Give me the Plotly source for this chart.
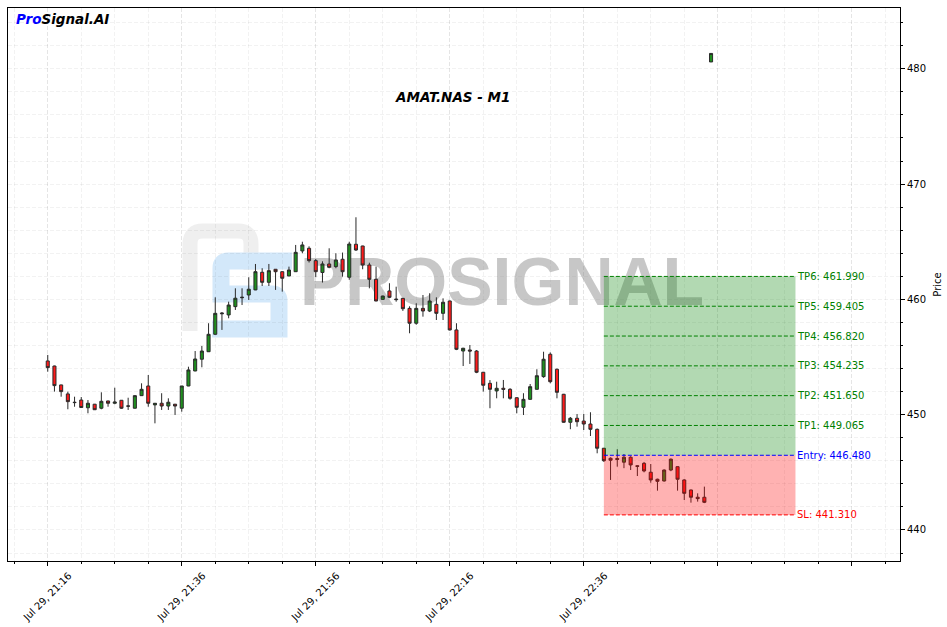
import pandas as pd
import plotly.graph_objects as go

# ---------------- data ----------------
start_time = "2024-07-29 21:16"

opens = [454.66, 454.22, 452.58, 451.80, 451.08, 451.27, 450.60, 450.91, 450.56, 451.19,
         450.99, 451.25, 450.76, 450.56, 451.65, 452.49, 450.85, 450.99, 450.75, 450.91,
         450.56, 452.49, 453.79, 454.81, 455.46, 456.97, 458.82, 458.65, 459.37, 460.14,
         460.38, 460.82, 462.35, 461.48, 462.61, 462.40, 462.03, 462.40, 464.20, 464.43,
         463.36, 462.33, 463.07, 462.84, 463.48, 461.92, 464.78, 464.63, 462.98, 461.74,
         460.00, 460.73, 460.03, 460.09, 459.22, 457.93, 459.22, 458.99, 459.57, 458.79,
         459.86, 457.35, 455.52, 455.61, 455.52, 453.68, 452.72, 452.06, 452.29, 452.20,
         451.47, 450.64, 451.33, 452.20, 453.30, 455.24, 453.94, 451.77, 449.34, 449.69,
         449.45, 449.19, 448.73, 447.09, 446.22, 446.20, 445.88, 446.31, 445.57, 445.78,
         445.01, 444.40, 444.25, 445.20, 445.49, 444.34, 443.47, 442.84, 442.84, 480.59]
highs = [455.18, 454.25, 452.60, 452.00, 451.56, 451.53, 451.27, 450.93, 451.94, 451.21,
         452.34, 451.27, 451.47, 451.67, 452.72, 453.44, 451.00, 451.86, 451.42, 450.93,
         452.49, 454.16, 455.52, 455.96, 457.93, 460.18, 458.90, 459.80, 460.96, 460.96,
         461.92, 463.07, 462.70, 463.07, 462.63, 462.42, 462.84, 464.72, 465.00, 464.60,
         463.50, 463.30, 464.43, 464.00, 464.06, 465.00, 467.12, 464.65, 463.18, 462.84,
         460.32, 461.40, 461.10, 460.11, 459.40, 459.66, 460.38, 460.53, 460.18, 460.09,
         459.90, 457.93, 455.80, 456.04, 455.60, 453.70, 453.00, 452.86, 453.01, 452.30,
         451.50, 451.86, 452.66, 453.94, 455.46, 455.40, 454.00, 451.80, 449.80, 450.06,
         450.06, 450.21, 448.80, 447.10, 446.30, 447.00, 446.59, 446.40, 445.60, 445.90,
         445.72, 444.45, 445.25, 446.20, 445.50, 444.40, 443.50, 443.18, 443.76, 481.33]
lows = [453.73, 452.00, 451.56, 450.47, 450.69, 450.60, 450.12, 450.41, 450.47, 450.69,
        450.91, 450.50, 450.41, 450.54, 451.63, 450.69, 449.25, 450.41, 450.41, 449.97,
        450.26, 452.47, 453.77, 454.11, 455.44, 456.95, 457.35, 458.36, 459.08, 459.51,
        459.95, 460.80, 461.16, 461.16, 460.82, 460.67, 462.01, 462.38, 464.00, 463.20,
        461.92, 461.46, 462.70, 462.70, 461.97, 461.70, 464.20, 462.61, 460.96, 459.84,
        459.98, 460.10, 459.80, 459.00, 457.06, 457.80, 458.50, 458.90, 458.21, 458.21,
        457.30, 455.60, 454.22, 454.40, 453.60, 452.00, 450.56, 451.42, 451.42, 451.30,
        450.12, 449.97, 451.30, 452.18, 453.20, 452.72, 451.42, 449.30, 448.74, 448.96,
        448.67, 448.15, 446.65, 445.90, 444.34, 445.49, 445.36, 445.20, 444.68, 445.00,
        444.10, 443.41, 444.20, 445.10, 443.41, 442.60, 442.37, 442.46, 442.33, 480.59]
closes = [454.08, 452.52, 452.00, 451.13, 451.05, 450.62, 450.99, 450.43, 451.16, 450.99,
          451.10, 450.56, 450.74, 451.65, 452.20, 450.99, 450.99, 450.75, 451.08, 450.75,
          452.49, 453.88, 454.83, 455.52, 456.97, 458.79, 458.76, 459.51, 460.10, 460.18,
          460.88, 462.40, 461.48, 462.49, 462.40, 461.83, 462.55, 464.08, 464.72, 463.36,
          462.40, 463.07, 462.78, 463.42, 462.40, 464.80, 464.28, 462.98, 461.74, 459.86,
          460.29, 460.18, 459.98, 459.19, 457.93, 459.22, 458.99, 459.86, 458.79, 459.75,
          457.35, 455.67, 455.76, 455.52, 453.68, 452.55, 452.20, 452.29, 452.20, 451.42,
          450.64, 451.33, 452.43, 453.38, 454.81, 452.86, 451.94, 449.34, 449.69, 449.39,
          449.19, 448.73, 447.09, 446.01, 446.05, 446.12, 446.31, 445.64, 445.52, 445.12,
          444.34, 444.22, 445.20, 446.14, 444.40, 443.18, 442.84, 442.72, 442.40, 481.33]

tick_times = ["2024-07-29 21:16", "2024-07-29 21:36", "2024-07-29 21:56", "2024-07-29 22:16",
              "2024-07-29 22:36", "2024-07-29 22:56", "2024-07-29 23:16"]
tick_labels = ["Jul 29, 21:16", "Jul 29, 21:36", "Jul 29, 21:56", "Jul 29, 22:16",
               "Jul 29, 22:36", "", ""]

entry_price = 446.48
sl_price = 441.31
tp_prices = [449.065, 451.65, 454.235, 456.82, 459.405, 461.99]
zone_start = "2024-07-29 22:39"
zone_end = "2024-07-29 23:07:36"

x_range = ["2024-07-29 21:10:04", "2024-07-29 23:23:12"]
y_range = [437.31, 485.27]

title_text = "AMAT.NAS - M1"
watermark_text = "PROSIGNAL"
watermark_pos = ("2024-07-29 22:23:48", 460.95)

times = pd.date_range(start_time, periods=len(opens), freq="min")

# ---------------- figure ----------------
GRID = "rgba(0,0,0,0.05)"
fig = go.Figure()

# watermark on base axes (drawn underneath the candles)
fig.add_trace(go.Scatter(
    x=[watermark_pos[0]], y=[watermark_pos[1]], mode="text", text=[watermark_text],
    textfont=dict(family="Liberation Sans", size=68, color="rgba(128,128,128,0.44)", weight="bold"),
    hoverinfo="skip", showlegend=False, xaxis="x", yaxis="y"))

fig.add_trace(go.Candlestick(
    x=times, open=opens, high=highs, low=lows, close=closes,
    xaxis="x2", yaxis="y2", whiskerwidth=0,
    increasing=dict(fillcolor="#1f8f1f", line=dict(color="#2a2a2a", width=1)),
    decreasing=dict(fillcolor="#ff1a1a", line=dict(color="#2a2a2a", width=1)),
    showlegend=False))

# zones
fig.add_shape(type="rect", xref="x", yref="y", x0=zone_start, x1=zone_end,
              y0=entry_price, y1=tp_prices[-1], fillcolor="rgba(0,128,0,0.3)",
              line=dict(width=0), layer="above")
fig.add_shape(type="rect", xref="x", yref="y", x0=zone_start, x1=zone_end,
              y0=sl_price, y1=entry_price, fillcolor="rgba(255,0,0,0.3)",
              line=dict(width=0), layer="above")

levels = [(f"TP{i+1}: {v:.3f}", v, "green") for i, v in enumerate(tp_prices)]
levels += [(f"Entry: {entry_price:.3f}", entry_price, "blue"), (f"SL: {sl_price:.3f}", sl_price, "red")]
for txt, v, col in levels:
    fig.add_shape(type="line", xref="x", yref="y", x0=zone_start, x1=zone_end, y0=v, y1=v,
                  line=dict(color=col, width=1, dash="4px,2px"), layer="above")
    fig.add_annotation(x=zone_end, y=v, xref="x", yref="y", text=txt, showarrow=False,
                       xanchor="left", yanchor="middle", xshift=0,
                       font=dict(family="DejaVu Sans", size=10, color=col))

# logo (decoration, paper coords from pixel positions)
def pp(x, y):
    return f"{(x - 8) / 892:.5f},{(561 - y) / 553:.5f}"

arch = (f"M {pp(190,331)} L {pp(190,244)} Q {pp(190,231)} {pp(203,231)} "
        f"L {pp(238,231)} Q {pp(251,231)} {pp(251,244)} L {pp(251,270)}")
s_path = (f"M {pp(292,261)} L {pp(228,261)} Q {pp(221,261)} {pp(221,268)} L {pp(221,294)} "
          f"L {pp(272,294)} Q {pp(279,294)} {pp(279,301)} L {pp(279,329)} L {pp(212,329)}")
fig.add_shape(type="path", xref="paper", yref="paper", path=arch,
              line=dict(color="#efefef", width=15), layer="below")
fig.add_shape(type="path", xref="paper", yref="paper", path=s_path,
              line=dict(color="#d3e8fa", width=17), layer="below")

# title and brand
fig.add_annotation(x=0.4978, y=0.839, xref="paper", yref="paper", text=title_text,
                   showarrow=False, xanchor="center", yanchor="middle",
                   font=dict(family="DejaVu Sans", size=13.5, color="black", weight="bold", style="italic"))
fig.add_annotation(x=0.007, y=0.981, xref="paper", yref="paper",
                   text="<span style='color:blue'>Pro</span>Signal.AI",
                   showarrow=False, xanchor="left", yanchor="middle",
                   font=dict(family="DejaVu Sans", size=13.5, color="black", weight="bold", style="italic"))

axis_common = dict(showline=True, linecolor="black", linewidth=1, mirror=True,
                   ticks="outside", tickcolor="black", ticklen=4, tickwidth=1,
                   showgrid=True, gridcolor=GRID, gridwidth=1, griddash="4px,2px",
                   zeroline=False, automargin=False,
                   tickfont=dict(family="DejaVu Sans", size=10, color="black"))

fig.update_layout(
    width=947, height=627, margin=dict(l=8, r=47, t=8, b=66),
    paper_bgcolor="white", plot_bgcolor="white", showlegend=False,
    boxgap=0.35, hovermode=False,
    font=dict(family="DejaVu Sans", size=10, color="black"),
    xaxis=dict(type="date", range=x_range, tickmode="array", tickvals=tick_times,
               ticktext=tick_labels, tickangle=-45, ticklabelshift=21,
               minor=dict(dtick=300000, tick0=start_time, ticks="outside", ticklen=2,
                          tickcolor="black", showgrid=True, gridcolor=GRID, griddash="4px,2px"),
               rangeslider=dict(visible=False), **axis_common),
    yaxis=dict(side="right", range=y_range, tick0=440, dtick=10,
               title=dict(text="Price", standoff=8, font=dict(family="DejaVu Sans", size=10)),
               minor=dict(dtick=2, tick0=440, ticks="outside", ticklen=2, tickcolor="black",
                          showgrid=True, gridcolor=GRID, griddash="4px,2px"),
               **axis_common),
    xaxis2=dict(type="date", overlaying="x", range=x_range, visible=False,
                rangeslider=dict(visible=False), anchor="y2"),
    yaxis2=dict(overlaying="y", range=y_range, visible=False, anchor="x2"),
)

fig.write_html("out.html")
